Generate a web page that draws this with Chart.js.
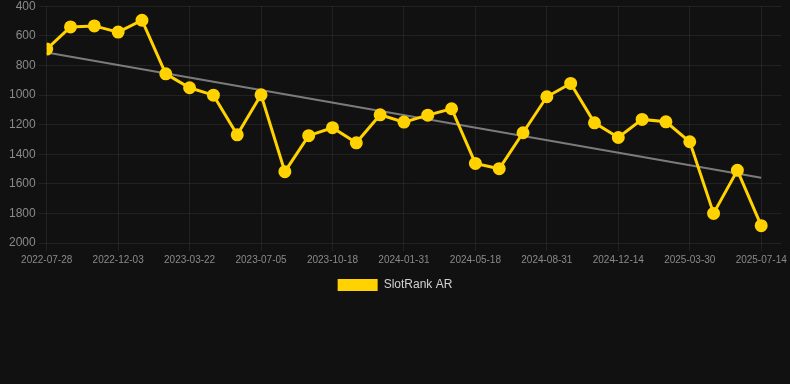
<!DOCTYPE html>
<html>
<head>
<meta charset="utf-8">
<script src="https://cdn.jsdelivr.net/npm/chart.js@4.4.0/dist/chart.umd.min.js"></script>
<style>
  html, body { margin: 0; padding: 0; background: #111111; overflow: hidden; }
  #wrap { position: relative; width: 790px; height: 305px; margin-top: -4px; }
</style>
</head>
<body>
<div id="wrap"><canvas id="rankChart"></canvas></div>
<script>
// dates on the x axis (only every 3rd is labelled in the picture)
const dates = [
  "2022-07-28", "2022-09-09", "2022-10-21", "2022-12-03", "2023-01-08", "2023-02-14",
  "2023-03-22", "2023-04-26", "2023-05-31", "2023-07-05", "2023-08-09", "2023-09-13",
  "2023-10-18", "2023-11-22", "2023-12-27", "2024-01-31", "2024-03-06", "2024-04-12",
  "2024-05-18", "2024-06-22", "2024-07-27", "2024-08-31", "2024-10-05", "2024-11-09",
  "2024-12-14", "2025-01-18", "2025-02-22", "2025-03-30", "2025-05-04", "2025-06-08",
  "2025-07-14"
];

// SlotRank AR values
const rankAR = [
  690, 540, 533, 575, 495, 857, 951, 1001, 1269, 999,
  1518, 1275, 1221, 1323, 1134, 1183, 1136, 1093, 1462, 1498,
  1255, 1012, 922, 1188, 1287, 1165, 1181, 1316, 1800, 1509,
  1883
];

// trend line end points (first and last date)
const trendIdx = [0, 30];
const trendVals = [713, 1559];

const yTicks = { min: 400, max: 2000, step: 200 };

const gridColor = "rgba(255,255,255,0.07)";
const tickColor = "#8a8a8a";
const fontFamily = "'Liberation Sans', Arial, sans-serif";
const gold = "#FFD200";

new Chart(document.getElementById("rankChart"), {
  type: "line",
  data: {
    datasets: [
      {
        label: "SlotRank AR",
        data: rankAR.map((v, i) => ({ x: i, y: v })),
        borderColor: gold,
        backgroundColor: gold,
        borderWidth: 3,
        pointRadius: 5,
        pointBackgroundColor: gold,
        pointBorderColor: gold,
        tension: 0
      },
      {
        label: "trend",
        data: trendIdx.map((x, i) => ({ x: x, y: trendVals[i] })),
        borderColor: "rgba(150,150,150,0.8)",
        borderWidth: 2,
        pointRadius: 0,
        tension: 0
      }
    ]
  },
  options: {
    responsive: true,
    maintainAspectRatio: false,
    animation: false,
    plugins: {
      legend: {
        position: "bottom",
        labels: {
          color: "#d0d0d0",
          boxWidth: 40,
          boxHeight: 12,
          font: { family: fontFamily, size: 12 },
          // only the main series, drawn as a flat box without outline
          generateLabels: chart => [{
            text: chart.data.datasets[0].label,
            fillStyle: gold,
            strokeStyle: gold,
            lineWidth: 0,
            fontColor: "#d0d0d0",
            datasetIndex: 0,
            hidden: false
          }]
        }
      },
      tooltip: { enabled: false }
    },
    scales: {
      x: {
        type: "linear",
        min: 0,
        max: 30.85,
        grid: { color: gridColor },
        border: { display: false },
        ticks: {
          stepSize: 3,
          includeBounds: false,
          maxRotation: 0,
          color: tickColor,
          font: { family: fontFamily, size: 10 },
          callback: v => Number.isInteger(v) ? (dates[v] || "") : ""
        }
      },
      y: {
        reverse: true,
        min: yTicks.min,
        max: yTicks.max,
        grid: { color: gridColor },
        border: { display: false },
        afterFit: scale => { scale.width += 6; },
        ticks: {
          stepSize: yTicks.step,
          color: tickColor,
          font: { family: fontFamily, size: 12 },
          callback: v => String(v)
        }
      }
    }
  }
});
</script>
</body>
</html>
